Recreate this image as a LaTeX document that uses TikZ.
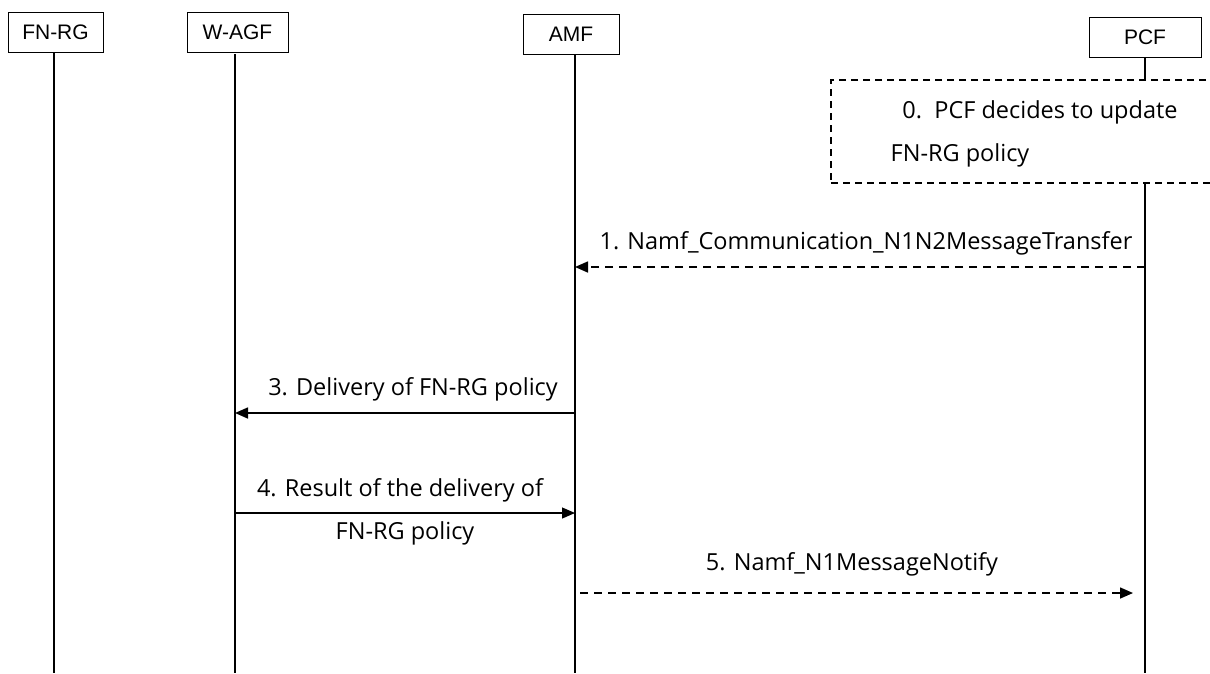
\documentclass[tikz,border=0pt]{standalone}
\usepackage{fontspec}
\setmainfont{Open Sans}
\newfontfamily\boxfont{Liberation Sans}
\usetikzlibrary{arrows.meta}
\begin{document}
\begin{tikzpicture}[x=1pt,y=-1pt,
  entity/.style={draw,line width=1pt,inner sep=0pt,minimum height=40pt,font=\boxfont\fontsize{21}{24}\selectfont},
  life/.style={line width=1.3pt},
  msg/.style={line width=1.6pt,-{Triangle[length=13pt,width=11pt]}},
  dmsg/.style={msg,dash pattern=on 8pt off 6pt},
  lbl/.style={font=\fontsize{23.5}{26}\selectfont,inner sep=0pt}]
\useasboundingbox (0,0) rectangle (1210,673);
\node[entity,minimum width=95pt] (fnrg) at (55.5,32) {FN-RG};
\node[entity,minimum width=101pt] (wagf) at (237.5,32) {W-AGF};
\node[entity,minimum width=96pt] (amf) at (571,34) {AMF};
\node[entity,minimum width=112pt] (pcf) at (1145,37) {PCF};
% lifelines
\coordinate (fnrgE) at (54,673);
\coordinate (wagfE) at (235,673);
\coordinate (amfE) at (575,673);
\coordinate (pcfE) at (1145,673);
\draw[life] (54,52) -- (fnrgE);
\draw[life] (235,54) -- (wagfE);
\draw[life] (575,54) -- (amfE);
% step 0 box
\node[draw,line width=1.3pt,dash pattern=on 7pt off 5pt,minimum width=400pt,minimum height=103pt,inner sep=0pt] (s0) at (1031,131.5) {};
\draw[life] (pcf.south) -- (1145,80);
\draw[life] (1145,183) -- (pcfE);
\node[lbl] (t0a) at (1040,112) {0.\ \ PCF decides to update};
\node[lbl] (t0b) at (960,155) {FN-RG policy};
% messages
\coordinate (m1s) at (1145,267); \coordinate (m1e) at (575,267);
\draw[dmsg] (m1s) -- (m1e);
\node[lbl] (t1) at (866,243) {1. Namf\_Communication\_N1N2MessageTransfer};
\coordinate (m3s) at (575,413); \coordinate (m3e) at (235,413);
\draw[msg] (m3s) -- (m3e);
\node[lbl] (t3) at (413,389) {3. Delivery of FN-RG policy};
\coordinate (m4s) at (235,513); \coordinate (m4e) at (575,513);
\draw[msg,line width=1.2pt] (m4s) -- (m4e);
\node[lbl] (t4a) at (400,490) {4. Result of the delivery of};
\node[lbl] (t4b) at (405,533) {FN-RG policy};
\coordinate (m5s) at (580,593); \coordinate (m5e) at (1133,593);
\draw[dmsg] (m5s) -- (m5e);
\node[lbl] (t5) at (852,564) {5. Namf\_N1MessageNotify};
\end{tikzpicture}
\end{document}
